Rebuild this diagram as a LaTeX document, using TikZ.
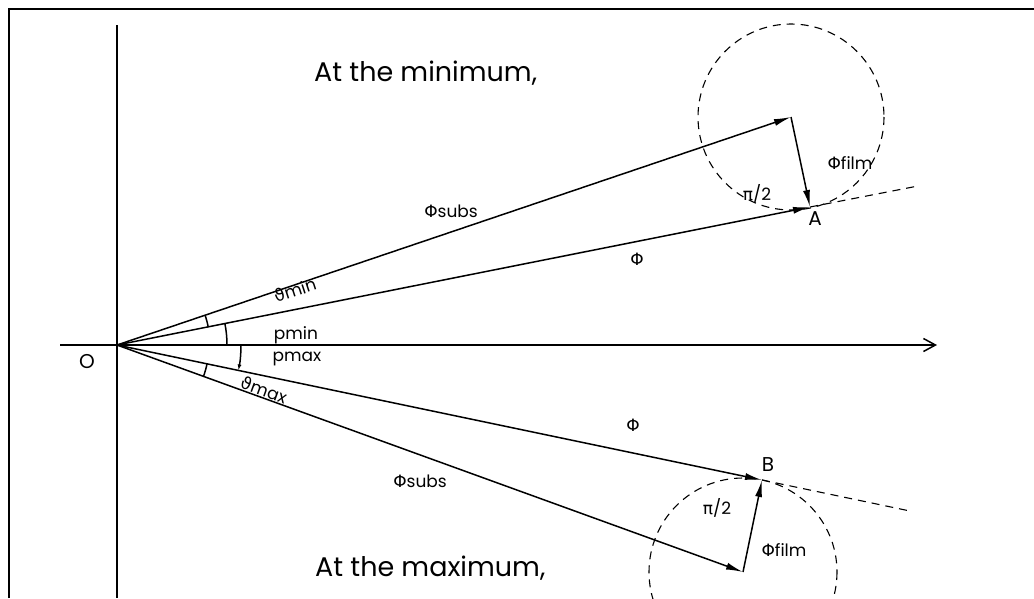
\documentclass[tikz,border=0pt]{standalone}
\usepackage{fontspec}
\setmainfont{Poppins}
\newfontfamily\gr{DejaVu Sans}
\usetikzlibrary{arrows.meta}
\begin{document}
\begin{tikzpicture}[x=1pt,y=-1pt,
  vec/.style={line width=1.5pt,-{Latex[length=17pt,width=7pt]}},
  ln/.style={line width=1.5pt},
  dsh/.style={line width=1.1pt,dash pattern=on 8pt off 6pt},
  tick/.style={line width=1.5pt},
  lbl/.style={font=\fontsize{17}{20}\selectfont, inner sep=0.5pt},
  big/.style={font=\fontsize{27}{31}\selectfont, anchor=west, inner sep=0pt},
]
\useasboundingbox (0,0) rectangle (1034,598);
\clip (0,0) rectangle (1034,598);
% frame
\coordinate (F1) at (9,598);
\coordinate (F2) at (9,9);
\coordinate (F3) at (1034,9);
\draw[line width=2.2pt] (F1) -- (F2) -- (F3);
% axes
\coordinate (O) at (117,345);
\coordinate (Ytop) at (117,25);
\coordinate (Ybot) at (117,598);
\coordinate (Xl) at (60,345);
\coordinate (Xr) at (937,345);
\draw[ln] (Ytop) -- (Ybot);
\draw[ln,-{Straight Barb[length=12pt,width=13pt]}] (Xl) -- (Xr);
\node[lbl,font=\fontsize{20}{23}\selectfont] (Olab) at (87,362) {O};
% top construction
\coordinate (P1) at (791,117);
\coordinate (A) at (810,207);
\coordinate (E1) at (918,186);
\draw[dsh] (P1) circle[radius=93];
\draw[dsh] (A) -- (E1);
\draw[vec] (O) -- (P1);
\draw[vec] (P1) -- (A);
\draw[vec] (O) -- (A);
% bottom construction
\coordinate (P2) at (743,572);
\coordinate (B) at (762,480);
\coordinate (E2) at (910,511);
\draw[dsh] (P2) circle[radius=94];
\draw[dsh] (B) -- (E2);
\draw[vec] (O) -- (P2);
\draw[vec] (P2) -- (B);
\draw[vec] (O) -- (B);
% angle ticks
\draw[tick] (O) ++(-11.26:93) arc[start angle=-11.26, end angle=-18.69, radius=93];
\draw[tick] (O) ++(0:110) arc[start angle=0, end angle=-11.26, radius=110];
\draw[tick,-{Latex[length=6pt,width=4pt]}] (O) ++(0:124) arc[start angle=0, end angle=11.82, radius=124];
\draw[tick] (O) ++(11.82:92) arc[start angle=11.82, end angle=19.93, radius=92];
% labels
\node[big] (tmin) at (314,73) {At the minimum,};
\node[big] (tmax) at (315,568) {At the maximum,};
\node[lbl] (subs1) at (451,211) {{\gr Φ}subs};
\node[lbl] (phi1) at (637,259) {\gr Φ};
\node[lbl] (film1) at (850,163) {{\gr Φ}film};
\node[lbl] (pi1) at (757,194) {{\gr π}/2};
\node[lbl,font=\fontsize{20}{23}\selectfont] (Alab) at (815,219) {A};
\node[lbl] (subs2) at (420,481) {{\gr Φ}subs};
\node[lbl] (phi2) at (633,425) {\gr Φ};
\node[lbl] (film2) at (784,550) {{\gr Φ}film};
\node[lbl] (pi2) at (717,508) {{\gr π}/2};
\node[lbl,font=\fontsize{20}{23}\selectfont] (Blab) at (768,465) {B};
\node[lbl,rotate=18] (tmin2) at (295,290) {{\gr ϑ}min};
\node[lbl] (pmin) at (296,335) {pmin};
\node[lbl] (pmax) at (297,359) {pmax};
\node[lbl,rotate=-20] (tmax2) at (264,390) {{\gr ϑ}max};
\end{tikzpicture}
\end{document}
